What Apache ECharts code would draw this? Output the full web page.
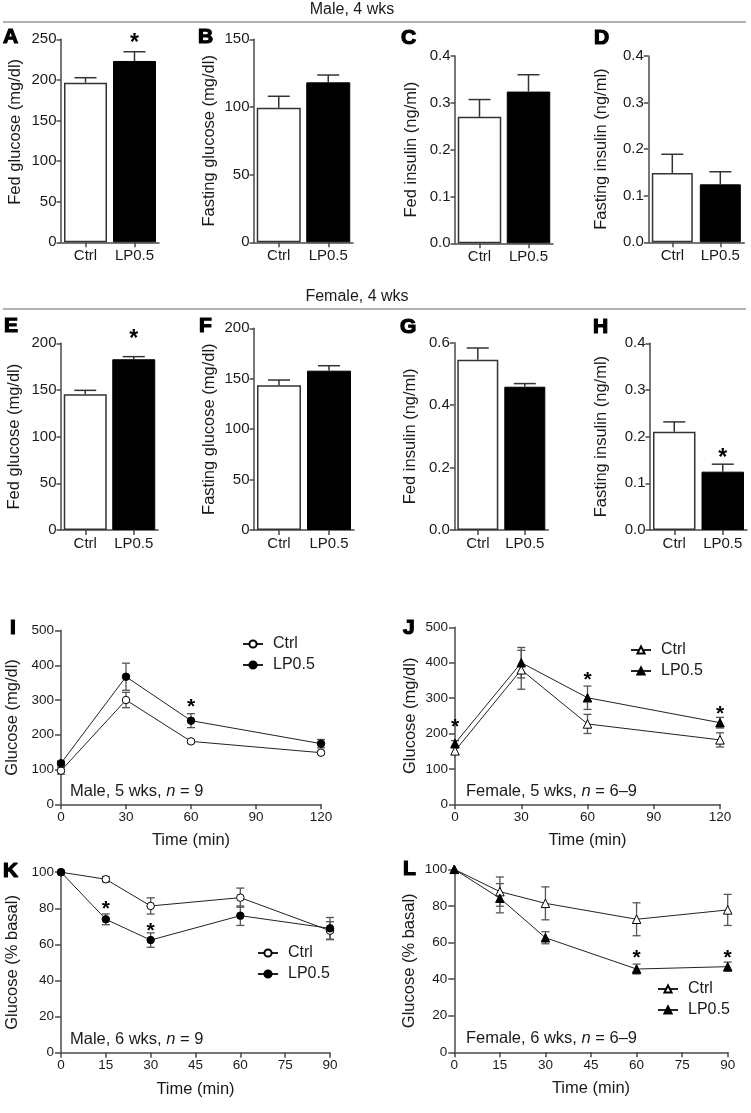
<!DOCTYPE html>
<html><head><meta charset="utf-8">
<script src="https://cdn.jsdelivr.net/npm/echarts@6/dist/echarts.min.js"></script>
<style>html,body{margin:0;padding:0;background:#fff}#c{width:751px;height:1113px}</style>
</head><body><div id="c"></div>
<script>
// ---------------- DATA ----------------
const barCategories = ['Ctrl', 'LP0.5'];

// Male, 4 wks
const fedGlucoseMale = [196.6, 223.3];
const fedGlucoseMaleErr = [6.1, 11.4];
const fedGlucoseMaleStar = [null, 248.5];
const fastGlucoseMale = [99.5, 118.2];
const fastGlucoseMaleErr = [8.4, 5.4];
const fedInsulinMale = [0.270, 0.324];
const fedInsulinMaleErr = [0.037, 0.036];
const fastInsulinMale = [0.149, 0.1245];
const fastInsulinMaleErr = [0.040, 0.027];

// Female, 4 wks
const fedGlucoseFemale = [145.4, 182.9];
const fedGlucoseFemaleErr = [4.2, 2.8];
const fedGlucoseFemaleStar = [null, 207];
const fastGlucoseFemale = [143.5, 158];
const fastGlucoseFemaleErr = [5.2, 4.9];
const fedInsulinFemale = [0.545, 0.459];
const fedInsulinFemaleErr = [0.038, 0.010];
const fastInsulinFemale = [0.2106, 0.125];
const fastInsulinFemaleErr = [0.021, 0.016];
const fastInsulinFemaleStar = [null, 0.1607];

// GTT (I, J)
const gttTime = [0, 30, 60, 120];
const gttMaleCtrl = [96.7, 300, 181, 148.5];
const gttMaleCtrlErr = [10, 22, 5, 5];
const gttMaleLP = [118, 367, 240.6, 174.5];
const gttMaleLPErr = [6, 39, 20, 12];
const gttMaleStar = [null, null, 288.6, null];
const gttFemaleCtrl = [151, 380, 227, 182];
const gttFemaleCtrlErr = [8, 55, 27, 20];
const gttFemaleLP = [172, 400, 301, 230.5];
const gttFemaleLPErr = [8, 43, 33, 15];
const gttFemaleStar = [226.8, null, 358, 263.6];

// ITT (K, L)
const ittTime = [0, 15, 30, 60, 90];
const ittMaleCtrl = [100, 96.1, 81.3, 85.9, 67.6];
const ittMaleCtrlErr = [0, 1.5, 4.5, 5.3, 5];
const ittMaleLP = [100, 73.9, 62.4, 75.9, 68.9];
const ittMaleLPErr = [0, 3, 4, 5.4, 6];
const ittMaleStar = [null, 81.3, 69.1, null, null];
const ittFemaleCtrl = [100, 87.8, 81.4, 72.7, 77.8];
const ittFemaleCtrlErr = [0, 8, 9, 9, 8.5];
const ittFemaleLP = [100, 84.2, 62.6, 45.5, 46.8];
const ittFemaleLPErr = [0, 8, 3.3, 2.7, 2.5];
const ittFemaleStar = [null, null, null, 52.9, 52.9];

// ---------------- BUILD ----------------
const FONT = '"Liberation Sans", Arial, Helvetica, sans-serif';
const AX = '#4a4a4a';
const TXT = '#1a1a1a';
const grids = [], xAxes = [], yAxes = [], series = [], legends = [], graphics = [];

function axisCommon(tickLen) {
  return {
    axisLine: { show: true, onZero: false, lineStyle: { color: AX, width: 1.5 } },
    axisTick: { show: true, length: tickLen, lineStyle: { color: AX, width: 1.5 } },
    splitLine: { show: false },
    nameMoveOverlap: false
  };
}

function barErrItem(params, api) {
  const i = api.value(0), v = api.value(1), e = api.value(2);
  const p0 = api.coord([i, v]), p1 = api.coord([i, v + e]);
  const hw = 11;
  return { type: 'group', children: [
    { type: 'line', shape: { x1: p0[0], y1: p0[1], x2: p1[0], y2: p1[1] }, style: { stroke: '#333', lineWidth: 1.5 } },
    { type: 'line', shape: { x1: p1[0] - hw, y1: p1[1], x2: p1[0] + hw, y2: p1[1] }, style: { stroke: '#333', lineWidth: 1.5 } }
  ] };
}
function lineErrItem(params, api) {
  const x = api.value(0), v = api.value(1), e = api.value(2);
  if (!e) return { type: 'group', children: [] };
  const pt = api.coord([x, v + e]), pb = api.coord([x, v - e]);
  const hw = 4;
  const st = { stroke: '#555', lineWidth: 1.3 };
  return { type: 'group', children: [
    { type: 'line', shape: { x1: pt[0], y1: pt[1], x2: pb[0], y2: pb[1] }, style: st },
    { type: 'line', shape: { x1: pt[0] - hw, y1: pt[1], x2: pt[0] + hw, y2: pt[1] }, style: st },
    { type: 'line', shape: { x1: pb[0] - hw, y1: pb[1], x2: pb[0] + hw, y2: pb[1] }, style: st }
  ] };
}
function starItem(size) {
  return function (params, api) {
    const p = api.coord([api.value(0), api.value(1)]);
    return { type: 'text', x: p[0], y: p[1] + size * 0.14,
      style: { text: '*', font: 'bold ' + size + 'px ' + FONT, fill: '#000', align: 'center', verticalAlign: 'middle',
               textAlign: 'center', textVerticalAlign: 'middle' } };
  };
}

function addBarPanel(p) {
  const gi = grids.length;
  grids.push({ left: p.left, top: p.top, width: p.width, height: p.height, outerBoundsMode: 'none', containLabel: false });
  xAxes.push(Object.assign(axisCommon(5), {
    gridIndex: gi, type: 'category', data: barCategories,
    axisTick: { show: true, alignWithLabel: true, length: 5, lineStyle: { color: AX, width: 1.5 } },
    axisLabel: { color: TXT, fontSize: 15, fontFamily: FONT, margin: 6, interval: 0 }
  }));
  yAxes.push(Object.assign(axisCommon(4.5), {
    gridIndex: gi, type: 'value', min: 0, max: p.max, interval: p.interval,
    name: p.name, nameLocation: 'middle', nameGap: p.nameGap,
    nameTextStyle: { color: TXT, fontSize: 16.5, fontFamily: FONT, padding: p.namePad || 0 },
    axisLabel: { color: TXT, fontSize: 15, fontFamily: FONT, margin: 4.5,
      formatter: p.dec ? (v => v.toFixed(p.dec)) : (v => String(v)) }
  }));
  series.push({
    type: 'bar', xAxisIndex: gi, yAxisIndex: gi, barWidth: p.barWidth, silent: true,
    data: p.values.map((v, i) => ({ value: v, itemStyle: i === 0
      ? { color: '#fff', borderColor: '#333', borderWidth: 1.5 }
      : { color: '#000', borderColor: '#000', borderWidth: 1 } }))
  });
  series.push({
    type: 'custom', xAxisIndex: gi, yAxisIndex: gi, silent: true, z: 3,
    encode: { x: 0, y: 1 }, renderItem: barErrItem,
    data: p.values.map((v, i) => [i, v, p.err[i]])
  });
  if (p.stars) {
    series.push({
      type: 'custom', xAxisIndex: gi, yAxisIndex: gi, silent: true, z: 4, clip: false,
      encode: { x: 0, y: 1 }, renderItem: starItem(23),
      data: p.stars.map((s, i) => s == null ? null : [i, s]).filter(d => d)
    });
  }
}

function addLinePanel(p) {
  const gi = grids.length;
  grids.push({ left: p.left, top: p.top, width: p.width, height: p.height, outerBoundsMode: 'none', containLabel: false });
  xAxes.push(Object.assign(axisCommon(5), {
    gridIndex: gi, type: 'value', min: 0, max: p.xmax, interval: p.xint,
    name: 'Time (min)', nameLocation: 'middle', nameGap: 28,
    nameTextStyle: { color: TXT, fontSize: 16.5, fontFamily: FONT },
    axisLabel: { color: TXT, fontSize: 13.5, fontFamily: FONT, margin: 6 }
  }));
  yAxes.push(Object.assign(axisCommon(6), {
    gridIndex: gi, type: 'value', min: 0, max: p.ymax, interval: p.yint,
    name: p.yname, nameLocation: 'middle', nameGap: p.nameGap,
    nameTextStyle: { color: TXT, fontSize: 16.5, fontFamily: FONT },
    axisLabel: { color: TXT, fontSize: 13.5, fontFamily: FONT, margin: 7 }
  }));
  const groups = [
    { label: 'Ctrl', vals: p.ctrl, err: p.ctrlErr, fill: '#fff' },
    { label: 'LP0.5', vals: p.lp, err: p.lpErr, fill: '#000' }
  ];
  groups.forEach(g => {
    series.push({
      type: 'custom', xAxisIndex: gi, yAxisIndex: gi, silent: true, z: 1,
      encode: { x: 0, y: 1 }, renderItem: lineErrItem,
      data: p.time.map((t, k) => [t, g.vals[k], g.err[k]])
    });
  });
  groups.forEach(g => {
    series.push({
      type: 'line', name: g.label + '|' + p.id, xAxisIndex: gi, yAxisIndex: gi, silent: true, z: 2,
      symbol: p.symbol, symbolSize: p.symbol === 'circle' ? 7.5 : 8.5,
      lineStyle: { color: '#222', width: 1 },
      itemStyle: { color: g.fill, borderColor: '#000', borderWidth: 1 },
      data: p.time.map((t, k) => [t, g.vals[k]])
    });
  });
  series.push({
    type: 'custom', xAxisIndex: gi, yAxisIndex: gi, silent: true, z: 4, clip: false,
    encode: { x: 0, y: 1 }, renderItem: starItem(21),
    data: p.stars.map((s, k) => s == null ? null : [p.time[k], s]).filter(d => d)
  });
  legends.push({
    orient: 'vertical', left: p.legLeft, top: p.legTop, itemWidth: 20, itemHeight: 9, itemGap: 5,
    selectedMode: false, padding: 0,
    data: ['Ctrl|' + p.id, 'LP0.5|' + p.id],
    formatter: n => n.split('|')[0],
    textStyle: { color: TXT, fontSize: 16, fontFamily: FONT, padding: [0, 0, 0, 5] }
  });
  graphics.push({
    type: 'text', left: p.noteX, top: p.noteY - 9,
    style: { text: '{a|' + p.note + ', }{i|n}{a| = ' + p.nval + '}',
      rich: { a: { fontSize: 16.5, fontFamily: FONT, fill: TXT, color: TXT },
              i: { fontSize: 16.5, fontFamily: FONT, fontStyle: 'italic', fill: TXT, color: TXT } } }
  });
}

// Bar panels
addBarPanel({ left: 61, top: 39.3, width: 98, height: 203, max: 250, interval: 50, barWidth: 43, nameGap: 37, namePad: [0, 0, 0, 18],
  name: 'Fed glucose (mg/dl)', values: fedGlucoseMale, err: fedGlucoseMaleErr, stars: fedGlucoseMaleStar });
addBarPanel({ left: 254, top: 39.3, width: 99, height: 203, max: 150, interval: 50, barWidth: 44, nameGap: 36,
  name: 'Fasting glucose (mg/dl)', values: fastGlucoseMale, err: fastGlucoseMaleErr });
addBarPanel({ left: 455, top: 56, width: 98, height: 187.3, max: 0.4, interval: 0.1, barWidth: 43.5, nameGap: 35, dec: 1,
  name: 'Fed insulin (ng/ml)', values: fedInsulinMale, err: fedInsulinMaleErr });
addBarPanel({ left: 648.3, top: 56, width: 96, height: 186.3, max: 0.4, interval: 0.1, barWidth: 41, nameGap: 38, dec: 1,
  name: 'Fasting insulin (ng/ml)', values: fastInsulinMale, err: fastInsulinMaleErr });
addBarPanel({ left: 61, top: 343.3, width: 97, height: 186.7, max: 200, interval: 50, barWidth: 43, nameGap: 38,
  name: 'Fed glucose (mg/dl)', values: fedGlucoseFemale, err: fedGlucoseFemaleErr, stars: fedGlucoseFemaleStar });
addBarPanel({ left: 254, top: 328.3, width: 100, height: 201.7, max: 200, interval: 50, barWidth: 44, nameGap: 36,
  name: 'Fasting glucose (mg/dl)', values: fastGlucoseFemale, err: fastGlucoseFemaleErr });
addBarPanel({ left: 454.3, top: 342.7, width: 94, height: 187.3, max: 0.6, interval: 0.2, barWidth: 41, nameGap: 35, dec: 1,
  name: 'Fed insulin (ng/ml)', values: fedInsulinFemale, err: fedInsulinFemaleErr });
addBarPanel({ left: 650, top: 343.3, width: 97, height: 186.7, max: 0.4, interval: 0.1, barWidth: 42.5, nameGap: 40, dec: 1,
  name: 'Fasting insulin (ng/ml)', values: fastInsulinFemale, err: fastInsulinFemaleErr, stars: fastInsulinFemaleStar });

// Line panels
addLinePanel({ id: 'I', left: 61, top: 630.5, width: 260, height: 173.8, xmax: 120, xint: 30, ymax: 500, yint: 100,
  nameGap: 40, yname: 'Glucose (mg/dl)', symbol: 'circle', time: gttTime,
  ctrl: gttMaleCtrl, ctrlErr: gttMaleCtrlErr, lp: gttMaleLP, lpErr: gttMaleLPErr, stars: gttMaleStar,
  legLeft: 242, legTop: 636, note: 'Male, 5 wks', nval: '9', noteX: 70, noteY: 791.7 });
addLinePanel({ id: 'J', left: 455, top: 627.3, width: 265, height: 177, xmax: 120, xint: 30, ymax: 500, yint: 100,
  nameGap: 36, yname: 'Glucose (mg/dl)', symbol: 'triangle', time: gttTime,
  ctrl: gttFemaleCtrl, ctrlErr: gttFemaleCtrlErr, lp: gttFemaleLP, lpErr: gttFemaleLPErr, stars: gttFemaleStar,
  legLeft: 630, legTop: 642, note: 'Female, 5 wks', nval: '6–9', noteX: 466, noteY: 791.7 });
addLinePanel({ id: 'K', left: 61, top: 872.2, width: 269, height: 180.5, xmax: 90, xint: 15, ymax: 100, yint: 20,
  nameGap: 40, yname: 'Glucose (% basal)', symbol: 'circle', time: ittTime,
  ctrl: ittMaleCtrl, ctrlErr: ittMaleCtrlErr, lp: ittMaleLP, lpErr: ittMaleLPErr, stars: ittMaleStar,
  legLeft: 257, legTop: 945, note: 'Male, 6 wks', nval: '9', noteX: 70, noteY: 1040 });
addLinePanel({ id: 'L', left: 454.3, top: 869.3, width: 273.4, height: 183, xmax: 90, xint: 15, ymax: 100, yint: 20,
  nameGap: 36, yname: 'Glucose (% basal)', symbol: 'triangle', time: ittTime,
  ctrl: ittFemaleCtrl, ctrlErr: ittFemaleCtrlErr, lp: ittFemaleLP, lpErr: ittFemaleLPErr, stars: ittFemaleStar,
  legLeft: 657, legTop: 981, note: 'Female, 6 wks', nval: '6–9', noteX: 466, noteY: 1039.3 });

// Section headers and panel letters
function headerText(txt, cx, cy) {
  graphics.push({ type: 'text', x: cx, y: cy,
    style: { text: txt, font: '16px ' + FONT, fill: TXT, align: 'center', verticalAlign: 'middle', textAlign: 'center', textVerticalAlign: 'middle' } });
}
function hline(y) {
  graphics.push({ type: 'line', shape: { x1: 3, y1: y, x2: 746, y2: y }, style: { stroke: '#999', lineWidth: 1.5 } });
}
headerText('Male, 4 wks', 352, 10);
hline(22);
headerText('Female, 4 wks', 357, 297);
hline(309);

const letters = [['A', 3, 37], ['B', 198, 37], ['C', 401, 38.5], ['D', 594, 38.5],
  ['E', 4, 326], ['F', 199, 326], ['G', 400, 327], ['H', 593, 327],
  ['I', 10, 628], ['J', 403, 628], ['K', 3, 871], ['L', 403, 869]];
letters.forEach(l => graphics.push({ type: 'text', x: l[1], y: l[2],
  style: { text: l[0], font: 'bold 21px ' + FONT, fill: '#000', stroke: '#000', lineWidth: 1.2,
    align: 'left', verticalAlign: 'middle', textAlign: 'left', textVerticalAlign: 'middle' } }));

const chart = echarts.init(document.getElementById('c'), null, { renderer: 'canvas' });
chart.setOption({
  animation: false,
  backgroundColor: '#fff',
  grid: grids, xAxis: xAxes, yAxis: yAxes, series: series, legend: legends,
  graphic: { elements: graphics }
});
</script></body></html>
